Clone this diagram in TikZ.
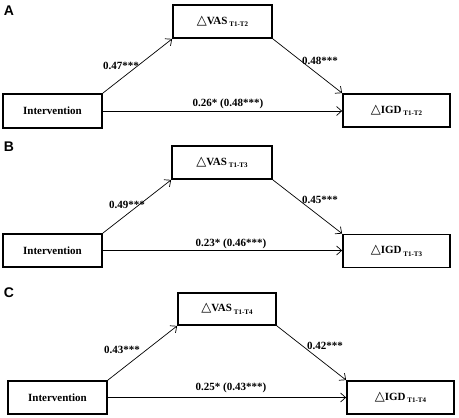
\documentclass[tikz,border=0pt]{standalone}
\usepackage{fontspec}
\setmainfont{Liberation Serif}
\setsansfont{Liberation Sans}
\newfontfamily\symfont{DejaVu Sans}
\usetikzlibrary{arrows.meta}
\newcommand{\subT}[1]{\,\raisebox{-2.5pt}{\fontsize{7}{7}\selectfont\bfseries #1}}
\newcommand{\tri}{{\symfont\fontsize{13}{13}\selectfont\mdseries △}}
\tikzset{
  box/.style={draw=black, line width=1.8pt, inner sep=0pt, font=\fontsize{11}{13}\selectfont\bfseries},
  conn/.style={line width=0.7pt, -{Straight Barb[length=5pt,width=9pt]}},
  lab/.style={inner sep=0pt, font=\fontsize{11}{13}\selectfont\bfseries},
  panel/.style={inner sep=0pt, font=\fontsize{14}{16}\selectfont\sffamily\bfseries}
}
\begin{document}
\begin{tikzpicture}[x=1pt,y=-1pt]
\useasboundingbox (0,0) rectangle (459,418);
% Panel A
\node[panel] (pA) at (9,11) {A};
\node[box, minimum width=99pt, minimum height=33pt] (vA) at (222.5,21.5) {\tri VAS\subT{T1-T2}};
\node[box, minimum width=99pt, minimum height=34pt] (iA) at (52.5,111) {Intervention};
\node[box, minimum width=107pt, minimum height=33pt] (gA) at (396.5,110.5) {\tri IGD\subT{T1-T2}};
\draw[conn] (iA.north east) -- (vA.south west);
\draw[conn] (vA.south east) -- (gA.north west);
\draw[conn] (iA.east) -- (gA.west |- iA.east);
\node[lab] (lA1) at (121,66) {0.47***};
\node[lab] (lA2) at (320,61) {0.48***};
\node[lab] (lA3) at (228,104) {0.26* (0.48***)};
% Panel B
\node[panel] (pB) at (9,147) {B};
\node[box, minimum width=100pt, minimum height=33pt] (vB) at (222,162.5) {\tri VAS\subT{T1-T3}};
\node[box, minimum width=99pt, minimum height=33pt] (iB) at (52.5,250.5) {Intervention};
\node[box, minimum width=107pt, minimum height=33pt] (gB) at (396.5,251) {\tri IGD\subT{T1-T3}};
\draw[conn] (iB.north east) -- (vB.south west);
\draw[conn] (vB.south east) -- (gB.north west);
\draw[conn] (iB.east) -- (gB.west |- iB.east);
\node[lab] (lB1) at (127,205) {0.49***};
\node[lab] (lB2) at (320,200) {0.45***};
\node[lab] (lB3) at (231,244) {0.23* (0.46***)};
% Panel C
\node[panel] (pC) at (9,293) {C};
\node[box, minimum width=98pt, minimum height=32pt] (vC) at (227,309) {\tri VAS\subT{T1-T4}};
\node[box, minimum width=99pt, minimum height=33pt] (iC) at (57.5,397.5) {Intervention};
\node[box, minimum width=107pt, minimum height=33pt] (gC) at (400.5,397.5) {\tri IGD\subT{T1-T4}};
\draw[conn] (iC.north east) -- (vC.south west);
\draw[conn] (vC.south east) -- (gC.north west);
\draw[conn] (iC.east) -- (gC.west |- iC.east);
\node[lab] (lC1) at (122,350) {0.43***};
\node[lab] (lC2) at (325,346) {0.42***};
\node[lab] (lC3) at (231,388) {0.25* (0.43***)};
\end{tikzpicture}
\end{document}
